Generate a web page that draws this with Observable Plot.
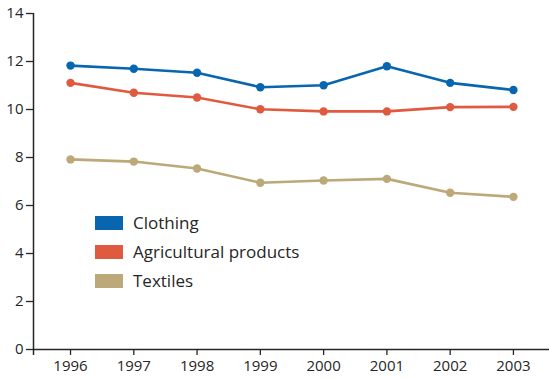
<!DOCTYPE html>
<html>
<head>
<meta charset="utf-8">
<script src="https://cdn.jsdelivr.net/npm/d3@7"></script>
<script src="https://cdn.jsdelivr.net/npm/@observablehq/plot@0.6"></script>
<style>
  html, body { margin: 0; padding: 0; background: #fff; }
  #wrap { position: relative; width: 549px; height: 381px; font-family: "Open Sans", sans-serif; }
  #legend { position: absolute; left: 95px; top: 208px; }
  .item { display: flex; align-items: center; height: 29px; font-size: 17px; color: #262626; }
  .sw { width: 28px; height: 14px; margin-right: 10px; }
</style>
</head>
<body>
<div id="wrap"><div id="legend"></div></div>
<script>
const years = [1996, 1997, 1998, 1999, 2000, 2001, 2002, 2003];
const seriesNames = ["Clothing", "Agricultural products", "Textiles"];
const clothing = [11.83, 11.7, 11.53, 10.93, 11.01, 11.8, 11.11, 10.81];
const agricultural = [11.11, 10.7, 10.5, 10.01, 9.92, 9.92, 10.1, 10.11];
const textiles = [7.92, 7.83, 7.54, 6.95, 7.04, 7.11, 6.53, 6.36];
const colors = ["#0866b0", "#e05a3f", "#bca878"];
const yTicks = [0, 2, 4, 6, 8, 10, 12, 14];

const valuesBySeries = [clothing, agricultural, textiles];
const data = seriesNames.flatMap((s, i) => years.map((yr, j) => ({series: s, year: yr, value: valuesBySeries[i][j]})));

const ink = "#262626";
const chart = Plot.plot({
  width: 549,
  height: 381,
  marginLeft: 33,
  marginRight: 0,
  marginTop: 13,
  marginBottom: 32,
  style: {fontFamily: "Open Sans, sans-serif", fontSize: "15px", color: ink, background: "transparent"},
  x: {domain: [1995.415, 2003.57], label: null},
  y: {domain: [0, 14], label: null},
  color: {domain: seriesNames, range: colors},
  marks: [
    Plot.ruleY([0], {stroke: ink, strokeWidth: 1.5}),
    Plot.ruleX([1995.415], {y1: -0.25, y2: 14, stroke: ink, strokeWidth: 1.5}),
    Plot.axisX({ticks: years, tickFormat: d => String(d), tickSize: 6, tickPadding: 5, stroke: ink, strokeWidth: 1.3, fill: ink, fontSize: 15}),
    Plot.axisY({ticks: yTicks, tickSize: 7, tickPadding: 3, stroke: ink, strokeWidth: 1.3, fill: ink, fontSize: 15}),
    Plot.line(data, {x: "year", y: "value", stroke: "series", strokeWidth: 2.6}),
    Plot.dot(data, {x: "year", y: "value", fill: "series", r: 4.2})
  ]
});
const wrap = document.getElementById("wrap");
wrap.insertBefore(chart, wrap.firstChild);

const legend = document.getElementById("legend");
seriesNames.forEach((s, i) => {
  const it = document.createElement("div");
  it.className = "item";
  it.innerHTML = `<span class="sw" style="background:${colors[i]}"></span><span>${s}</span>`;
  legend.appendChild(it);
});
</script>
</body>
</html>
